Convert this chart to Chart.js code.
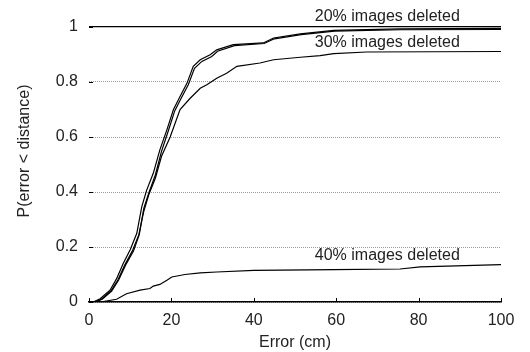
<!DOCTYPE html>
<html>
<head>
<meta charset="utf-8">
<script src="https://cdn.jsdelivr.net/npm/chart.js@4/dist/chart.umd.min.js"></script>
<style>
  html, body { margin: 0; padding: 0; background: #fff; }
  #wrap { width: 530px; height: 352px; }
</style>
</head>
<body>
<div id="wrap"><canvas id="cdf"></canvas></div>
<script>
// error in cm and cumulative probability
const errA = [0, 1, 2.7, 5.1, 6.7, 8.3, 10, 11.6, 12.8, 14, 15.6, 17.2, 18.9, 20.5, 22.1, 23.8, 25.3, 27, 29.4, 31, 35, 42.3, 44.8, 51.3, 59.4, 75.5, 100];
const probA = [0, 0, 0.012, 0.043, 0.085, 0.14, 0.19, 0.25, 0.346, 0.407, 0.468, 0.553, 0.626, 0.70, 0.747, 0.796, 0.857, 0.881, 0.899, 0.917, 0.936, 0.942, 0.96, 0.975, 0.988, 0.993, 0.995];

const errB = [0, 1.5, 3.2, 5.5, 7.2, 8.9, 10.8, 12.2, 13.3, 14.6, 16.1, 17.6, 19.2, 20.8, 22.4, 24.1, 25.6, 27.4, 29.8, 31.2, 35.3, 42.5, 45, 51.5, 59.6, 75.5, 100];
const probB = [0, 0, 0.01, 0.04, 0.08, 0.135, 0.185, 0.245, 0.34, 0.40, 0.462, 0.548, 0.62, 0.695, 0.742, 0.79, 0.85, 0.875, 0.893, 0.912, 0.932, 0.94, 0.957, 0.972, 0.985, 0.99, 0.991];

const err30 = [0, 1.5, 3, 5.3, 7, 8.7, 10.5, 12.1, 13.3, 14.5, 16.1, 17.6, 19.7, 22.1, 24.5, 27, 28.6, 31, 33.4, 35.9, 41.5, 44.8, 51.3, 56.1, 59.4, 67.4, 100];
const prob30 = [0, 0, 0.01, 0.04, 0.08, 0.135, 0.185, 0.245, 0.33, 0.39, 0.45, 0.53, 0.60, 0.70, 0.74, 0.777, 0.79, 0.814, 0.832, 0.857, 0.869, 0.881, 0.89, 0.896, 0.903, 0.909, 0.911];

const err40 = [0, 2.7, 6.7, 9.1, 12.4, 14.8, 15.6, 17.2, 18.9, 20.1, 23.3, 27, 31, 40, 59.4, 75.5, 80.4, 100];
const prob40 = [0, 0, 0.01, 0.03, 0.043, 0.049, 0.058, 0.064, 0.079, 0.091, 0.10, 0.106, 0.109, 0.115, 0.118, 0.12, 0.128, 0.136];

const xTicks = [0, 20, 40, 60, 80, 100];
const yTicks = [0, 0.2, 0.4, 0.6, 0.8, 1];

const curveNames = ['20% images deleted', '20% images deleted (b)', '30% images deleted', '40% images deleted'];
const curveLabels = ['20% images deleted', '30% images deleted', '40% images deleted'];
const yTitle = 'P(error < distance)';

const FONT = '"Liberation Sans", Arial, sans-serif';

function toPoints(xs, ys) {
    return xs.map((x, i) => ({ x: x, y: ys[i] }));
}

// text labels beside the curves, y title, inward tick marks
const curveText = {
    id: 'curveText',
    afterDraw(chart) {
        const c = chart.ctx;
        const xs = chart.scales.x, ys = chart.scales.y;
        const where = [[72.4, 1.037], [72.4, 0.943], [72.4, 0.167]];
        c.save();
        c.fillStyle = '#222';
        c.font = '16px ' + FONT;
        c.textAlign = 'center';
        c.textBaseline = 'middle';
        curveLabels.forEach((t, i) => {
            c.fillText(t, xs.getPixelForValue(where[i][0]), ys.getPixelForValue(where[i][1]));
        });

        c.save();
        c.translate(25, 151);
        c.rotate(-Math.PI / 2);
        c.fillText(yTitle, 0, 0);
        c.restore();

        c.strokeStyle = '#000';
        c.lineWidth = 1;
        xTicks.forEach(v => {
            const px = Math.round(xs.getPixelForValue(v)) + 0.5;
            c.beginPath();
            c.moveTo(px, ys.bottom);
            c.lineTo(px, ys.bottom - 4);
            c.stroke();
        });
        yTicks.forEach(v => {
            const py = Math.round(ys.getPixelForValue(v)) + 0.5;
            c.beginPath();
            c.moveTo(xs.left, py);
            c.lineTo(xs.left + 4, py);
            c.stroke();
        });
        c.restore();
    }
};

const ctx = document.getElementById('cdf').getContext('2d');
const series = [[errA, probA], [errB, probB], [err30, prob30], [err40, prob40]];

new Chart(ctx, {
    type: 'scatter',
    data: {
        datasets: series.map((s, i) => ({
            label: curveNames[i],
            data: toPoints(s[0], s[1]),
            showLine: true,
            borderColor: '#000',
            borderWidth: 1.2,
            pointRadius: 0,
            tension: 0
        }))
    },
    options: {
        responsive: true,
        maintainAspectRatio: false,
        animation: false,
        layout: { padding: { top: 27, right: 29, left: 0, bottom: 0 } },
        plugins: {
            legend: { display: false },
            tooltip: { enabled: false }
        },
        scales: {
            x: {
                type: 'linear',
                min: 0,
                max: 100,
                afterBuildTicks: s => { s.ticks = xTicks.map(v => ({ value: v })); },
                afterFit: s => { s.height = 50; },
                grid: { display: false },
                border: { display: true, color: '#000', width: 1.5 },
                ticks: {
                    color: '#222',
                    padding: 1,
                    maxRotation: 0,
                    font: { family: FONT, size: 16 }
                },
                title: {
                    display: true,
                    text: 'Error (cm)',
                    color: '#222',
                    padding: { top: 0, bottom: 0 },
                    font: { family: FONT, size: 16 }
                }
            },
            y: {
                min: 0,
                max: 1,
                afterBuildTicks: s => { s.ticks = yTicks.map(v => ({ value: v })); },
                afterFit: s => { s.width = 89; },
                grid: {
                    drawTicks: false,
                    color: c => (c.tick && c.tick.value === 1) ? '#000' : '#999',
                    lineWidth: c => (c.tick && c.tick.value === 1) ? 1.3 : 1
                },
                border: {
                    display: false,
                    dash: c => (c.tick && c.tick.value === 1) ? [] : [1, 1]
                },
                ticks: {
                    color: '#222',
                    padding: 11,
                    callback: v => String(v),
                    font: { family: FONT, size: 16 }
                }
            }
        }
    },
    plugins: [curveText]
});
</script>
</body>
</html>
